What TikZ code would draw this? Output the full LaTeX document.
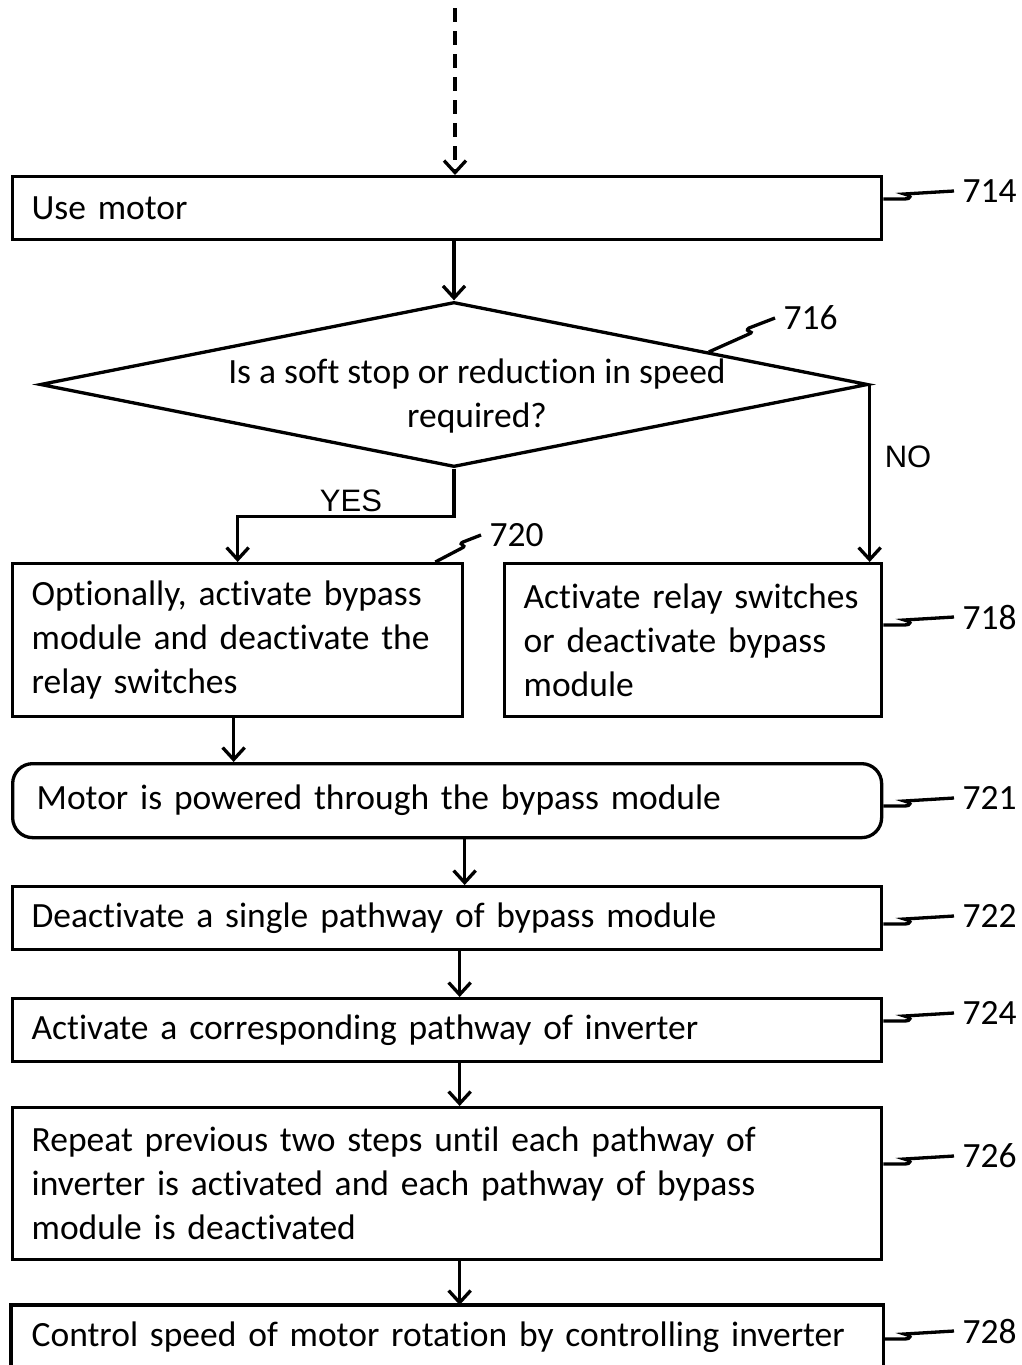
\documentclass[tikz,border=0pt]{standalone}
\usepackage{fontspec}
\setmainfont{Carlito}[Ligatures={NoCommon}]
\newfontfamily\ynfont{Liberation Sans}
\usetikzlibrary{arrows.meta,shapes.geometric,calc}
\begin{document}
\begin{tikzpicture}[x=1pt,y=-1pt,
  line width=3.3pt,
  every node/.style={font=\fontsize{35.5}{44}\selectfont},
  box/.style={draw, rectangle, inner xsep=19pt, inner ysep=0pt, align=left, anchor=north west},
  wbox/.style={box, minimum width=869pt, text width=831pt},
  arr/.style={-{Straight Barb[length=12pt,width=22pt,line width=3.3pt]}},
  lbl/.style={anchor=west, inner xsep=7pt, inner ysep=0pt},
  yn/.style={font=\ynfont\fontsize{31}{36}\selectfont, inner sep=0pt},
  lead/.style={line width=3.3pt}]
\useasboundingbox (0,0) rectangle (1022,1365);

% boxes
\node[wbox, minimum height=63pt] (b714) at (11,175) {Use motor};
\node[draw, diamond, minimum width=828pt, minimum height=165pt, inner sep=0pt, aspect=5] (d) at (454,384.5) {};
\node[align=center, inner sep=0pt] (dt) at (477,396) {Is a soft stop or reduction in speed\\required?};
\node[box, minimum width=450pt, text width=412pt, minimum height=153pt] (b720) at (11,562)
  {\mbox{Optionally, activate bypass}\\\mbox{module and deactivate the}\\\mbox{relay switches}};
\node[box, minimum width=377pt, text width=339pt, minimum height=153pt] (b718) at (503,562)
  {\mbox{Activate relay switches}\\\mbox{or deactivate bypass}\\\mbox{module}};
\node[wbox, inner xsep=24pt, text width=821pt, minimum height=74pt, rounded corners=20pt] (b721) at (11,762)
  {Motor is powered through the bypass module};
\node[wbox, minimum height=63pt] (b722) at (11,885) {Deactivate a single pathway of bypass module};
\node[wbox, minimum height=63pt] (b724) at (11,997) {Activate a corresponding pathway of inverter};
\node[wbox, minimum height=152pt] (b726) at (11,1106)
  {Repeat previous two steps until each pathway of\\inverter is activated and each pathway of bypass\\module is deactivated};
\node[wbox, draw=none, minimum height=62pt] (b728) at (11,1305) {Control speed of motor rotation by controlling inverter};
\draw (b728.south west) -- (b728.north west) -- (b728.north east) -- (b728.south east);

% connectors
\coordinate (top) at (455,8);
\draw[arr, dash pattern=on 14pt off 9pt] (top) -- (top |- b714.north);
\draw[arr] (d.north |- b714.south) -- (d.north);
\draw[arr] (d.south) -- ++(0,48) coordinate (yk) -| (b720.north);
\draw[arr] (d.east) -- (d.east |- b718.north);
\draw[arr] ([xshift=-4pt]b720.south) -- ([xshift=-4pt]b720.south |- b721.north);
\draw[arr] ([xshift=17.5pt]b721.south) -- ([xshift=17.5pt]b721.south |- b722.north);
\draw[arr] ([xshift=12.5pt]b722.south) -- ([xshift=12.5pt]b722.south |- b724.north);
\draw[arr] ([xshift=12.5pt]b724.south) -- ([xshift=12.5pt]b724.south |- b726.north);
\draw[arr] ([xshift=12.5pt]b726.south) -- ([xshift=12.5pt]b726.south |- b728.north);

% branch labels
\node[yn] (yes) at (351,501) {YES};
\node[yn] (no) at (908,457) {NO};

% reference labels
\node[lbl] (l714) at (954,191) {714};
\node[lbl] (l718) at (954,617) {718};
\node[lbl] (l721) at (954,798) {721};
\node[lbl] (l722) at (954,916) {722};
\node[lbl] (l724) at (954,1013) {724};
\node[lbl] (l726) at (954,1156) {726};
\node[lbl] (l728) at (954,1331) {728};
\node[lbl] (l716) at (775,318) {716};
\node[lbl] (l720) at (481,535) {720};

\foreach \b/\l in {b714/l714,b718/l718,b721/l721,b722/l722,b724/l724,b726/l726,b728/l728}{
  \draw[lead] ($(\b.east |- \l.west)+(0,8)$) -- ++(20,0)
     .. controls +(10,0) and +(6,1) .. ++(1,-5) -- (\l.west);
}
\draw[lead] ($(d.north)!0.613!(d.east)$) -- (749,334)
   .. controls (756,331) and (743,332) .. (749,328) -- (l716.west);
\draw[lead] ($(b720.north east)+(-29,0)$) -- (462,548)
   .. controls (468,545) and (457,545) .. (463,542) -- (l720.west);
\end{tikzpicture}
\end{document}
